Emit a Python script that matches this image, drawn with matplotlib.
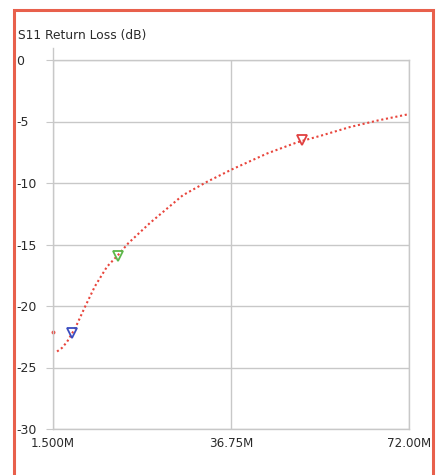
import matplotlib.pyplot as plt
import matplotlib.patches as mpatches
import numpy as np

# S11 sweep (MHz, dB)
freq_mhz = [2.3, 3.3, 4.3, 5.9, 7.8, 9.8, 12.2, 14.4, 16.4, 20.7, 27.2, 32.0,
            36.9, 43.9, 49.8, 55.0, 60.3, 66.0, 72.0]
s11_db = [-23.7, -23.4, -22.9, -21.8, -20.1, -18.4, -16.8, -15.85, -14.9, -13.25,
          -11.0, -9.9, -8.9, -7.6, -6.7, -6.1, -5.45, -4.9, -4.4]
stray_f = [1.5]
stray_db = [-22.1]

# markers: (freq, dB, colour)
mark_f = [5.3, 14.4, 50.8]
mark_db = [-22.2, -15.9, -6.5]
mark_col = ["#3a4cc0", "#5cb84a", "#e04040"]

xticks = [1.5, 36.75, 72.0]
xlabels = ["1.500M", "36.75M", "72.00M"]
yticks = [0, -5, -10, -15, -20, -25, -30]

grid_col = "#c8c8c8"
txt_col = "#2a2a2a"
red = "#e8453c"

fig = plt.figure(figsize=(4.36, 4.75), dpi=100)
ax = fig.add_axes([53/436, 1 - 429/475, 356/436, 369/475])

ax.plot(freq_mhz, s11_db, linestyle=(0, (1, 1.3)), color=red, lw=1.5)
ax.plot(stray_f, stray_db, "o", color=red, ms=1.8, clip_on=False)
for f, d, c in zip(mark_f, mark_db, mark_col):
    ax.plot(f, d, marker="v", ms=7, mfc="none", mec=c, mew=1.3, ls="none")

ax.set_xlim(1.5, 72.0)
ax.set_ylim(-30, 0)
ax.set_xticks(xticks, labels=xlabels)
ax.set_yticks(yticks, labels=[str(t) for t in yticks])
ax.grid(True, color=grid_col, lw=1.0)

for s in ["top", "right", "bottom", "left"]:
    ax.spines[s].set_color(grid_col)
    ax.spines[s].set_linewidth(1.0)
ax.spines["left"].set_bounds(-30, 1.0)

ax.tick_params(axis="y", length=5, color=grid_col, pad=21.5, labelsize=9,
               labelcolor=txt_col)
for lab in ax.get_yticklabels():
    lab.set_horizontalalignment("left")
ax.tick_params(axis="x", length=0, pad=6, labelsize=8.6, labelcolor=txt_col)

fig.text(18/436, 1 - 36/475, "S11 Return Loss (dB)", fontsize=8.8,
         color=txt_col, va="center", ha="left")

# outer red frame
fig.patches.append(mpatches.Rectangle((14/436, -0.02), 419/436, 1 - 10/475 + 0.02,
                                      transform=fig.transFigure, fill=False,
                                      edgecolor="#e8604c", lw=2.2))

fig.savefig("out.png", dpi=100)
